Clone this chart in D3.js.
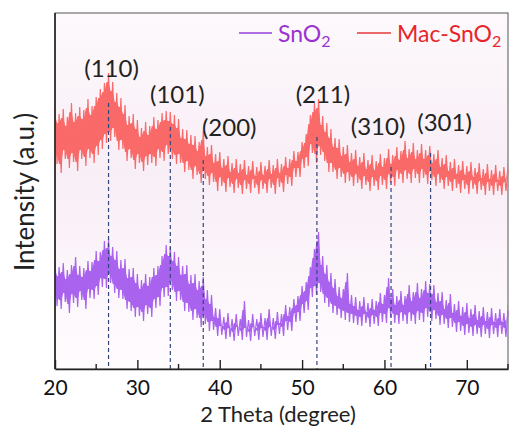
<!DOCTYPE html>
<html>
<head>
<meta charset="utf-8">
<script src="https://cdn.jsdelivr.net/npm/d3@7"></script>
<style>
body { margin: 0; background: #fff; }
text { font-family: Lato, "Open Sans", sans-serif; }
</style>
</head>
<body>
<svg id="chart" width="510" height="430"></svg>
<script>
//data//
var thetaStart = 20;   // first 2theta of the scan
var thetaStep = 0.25;  // scan step

// Mac-SnO2 intensities (a.u.)
var macSnO2 = [
262,205,255,196,260,210,252,201,266,207,256,198,262,210,259,203,
270,211,263,206,272,214,280,220,286,226,296,228,287,232,276,219,
271,220,264,208,253,211,255,200,249,206,241,198,247,204,243,206,
252,203,249,211,256,208,258,215,257,210,254,205,250,206,240,197,
239,199,234,190,233,194,227,186,238,190,222,184,224,187,215,178,
217,183,210,177,213,182,206,176,210,181,205,175,209,180,203,176,
208,181,202,175,207,180,203,176,209,181,204,175,210,182,205,177,
212,185,210,183,218,192,217,192,227,201,235,203,254,216,266,206,
270,214,253,208,246,197,240,197,231,190,230,192,222,186,224,188,
216,183,219,186,212,180,216,184,209,178,214,183,208,179,215,184,
211,180,220,186,214,183,222,190,218,186,228,190,220,186,226,191,
219,186,225,191,219,185,223,189,215,183,219,186,211,180,214,183,
207,178,210,181,204,176,208,180,203,175,207,180,201,175,206,179,
200,174,205,178,199,174,204,178,198,174,202,178,199
];

// SnO2 intensities (a.u.)
var snO2 = [
108,63,102,60,106,67,99,56,104,66,112,62,103,69,101,60,
108,71,107,70,118,74,117,82,128,81,130,86,122,76,118,71,
109,70,110,60,100,58,101,52,95,53,89,48,95,55,92,52,
101,61,103,63,113,72,124,73,122,79,117,68,112,69,103,58,
104,57,94,49,95,51,88,42,92,45,79,38,74,39,61,33,
60,34,52,30,56,32,50,28,55,33,50,29,68,32,49,28,
55,33,50,29,56,32,51,29,60,33,51,30,57,35,55,33,
64,39,62,38,70,47,73,48,83,56,87,59,102,72,120,74,
137,77,113,66,104,62,96,56,90,54,82,51,80,49,96,47,
74,46,72,44,68,43,72,46,66,42,70,45,68,43,76,47,
74,46,91,52,80,46,73,45,78,48,73,45,84,48,77,45,
86,49,80,47,88,52,85,48,84,50,76,44,77,45,69,41,
75,42,65,37,68,38,62,34,66,36,60,33,64,35,58,32,
62,35,57,31,61,35,56,32,60,35,56,32,58
];

// reflections of tetragonal SnO2
var peakLabels = ["(110)", "(101)", "(200)", "(211)", "(310)", "(301)"];
var peakTheta = [26.5, 34.0, 38.0, 51.8, 60.8, 65.6];
var peakTop = [266, 242, 209, 232, 202, 216];   // where each dashed marker starts

var xTicks = [20, 30, 40, 50, 60, 70];
var xMinor = [25, 35, 45, 55, 65, 75];

var seriesNames = ["SnO", "Mac-SnO"];

//layout//
var margins = {top: 13, right: 2, bottom: 61, left: 55};
var screen = {width: 510, height: 430};
var width = screen.width - margins.left - margins.right;
var height = screen.height - margins.top - margins.bottom;

// label nudges (px) so the Miller indices sit where the original put them
var labelDx = [3, 7, 26, 6, -13, 14];
var labelY = [77, 103, 136, 103, 135, 131];

var xScale = d3.scaleLinear()
               .domain([20, 75])
               .range([margins.left, margins.left + width]);

var yScale = d3.scaleLinear()
               .domain([0, 356])
               .range([margins.top + height, margins.top]);

var svg = d3.select("#chart");

//background//
var grad = svg.append("defs")
              .append("linearGradient")
              .attr("id", "bg")
              .attr("x1", 0).attr("y1", 0)
              .attr("x2", 0).attr("y2", 1);
grad.append("stop").attr("offset", "0%").attr("stop-color", "#fdf9fc");
grad.append("stop").attr("offset", "45%").attr("stop-color", "#f8eef6");
grad.append("stop").attr("offset", "100%").attr("stop-color", "#fffcfe");

svg.append("rect")
   .attr("x", margins.left)
   .attr("y", margins.top)
   .attr("width", width)
   .attr("height", height)
   .style("fill", "url(#bg)")
   .style("stroke", "#555")
   .style("stroke-width", 1);

//series//
var thetaAt = function(i) { return thetaStart + i * thetaStep; };
var inset = 9;   // how far the solid core sits inside the noise extremes

var drawSeries = function(values, colour)
{
    var pair = function(i)
    {
        var n = i < values.length - 1 ? values[i + 1] : values[i];
        return [Math.min(values[i], n), Math.max(values[i], n)];
    };

    // solid body of the noisy trace
    var core = d3.area()
                 .x(function(d, i) { return xScale(thetaAt(i)); })
                 .y0(function(d, i) { return yScale(pair(i)[0] + inset); })
                 .y1(function(d, i) { return yScale(pair(i)[1] - inset); });

    // the raw trace supplies the thin spikes
    var line = d3.line()
                 .x(function(d, i) { return xScale(thetaAt(i)); })
                 .y(function(d) { return yScale(d); });

    svg.append("path")
       .datum(values)
       .attr("d", core)
       .style("fill", colour)
       .style("stroke", "none");

    svg.append("path")
       .datum(values)
       .attr("d", line)
       .style("fill", "none")
       .style("stroke", colour)
       .style("stroke-width", 1.2);
};

drawSeries(snO2, "#a963ee");
drawSeries(macSnO2, "#f96a69");

//reference markers//
svg.append("g")
   .selectAll("line")
   .data(peakTheta)
   .enter()
   .append("line")
   .attr("x1", function(d) { return xScale(d); })
   .attr("x2", function(d) { return xScale(d); })
   .attr("y1", function(d, i) { return yScale(peakTop[i]); })
   .attr("y2", margins.top + height)
   .style("stroke", "#33477e")
   .style("stroke-width", 1.2)
   .style("stroke-dasharray", "4,3");

svg.append("g")
   .selectAll("text")
   .data(peakLabels)
   .enter()
   .append("text")
   .attr("x", function(d, i) { return xScale(peakTheta[i]) + labelDx[i]; })
   .attr("y", function(d, i) { return labelY[i]; })
   .attr("text-anchor", "middle")
   .style("font-size", "24px")
   .style("fill", "#222")
   .text(function(d) { return d; });

//axes//
var xAxis = svg.append("g")
               .attr("transform", "translate(0," + (margins.top + height) + ")")
               .call(d3.axisBottom(xScale)
                       .tickValues(xTicks)
                       .tickSizeInner(-9)
                       .tickSizeOuter(0)
                       .tickPadding(11));
xAxis.select(".domain").style("stroke", "#222").style("stroke-width", 1.6);
xAxis.selectAll(".tick line").style("stroke", "#222").style("stroke-width", 1.4);
xAxis.selectAll(".tick text")
     .style("font-family", "Lato, sans-serif")
     .style("font-size", "21px")
     .style("fill", "#111");

svg.append("g")
   .selectAll("line")
   .data(xMinor)
   .enter()
   .append("line")
   .attr("x1", function(d) { return xScale(d); })
   .attr("x2", function(d) { return xScale(d); })
   .attr("y1", margins.top + height)
   .attr("y2", margins.top + height - 5)
   .style("stroke", "#222")
   .style("stroke-width", 1.4);

svg.append("line")
   .attr("x1", margins.left).attr("x2", margins.left)
   .attr("y1", margins.top).attr("y2", margins.top + height)
   .style("stroke", "#222")
   .style("stroke-width", 1.6);

svg.append("text")
   .attr("x", 278)
   .attr("y", 422)
   .attr("text-anchor", "middle")
   .style("font-size", "22px")
   .style("fill", "#222")
   .text("2 Theta (degree)");

svg.append("text")
   .attr("transform", "translate(34,192) rotate(-90)")
   .attr("text-anchor", "middle")
   .style("font-size", "26px")
   .style("fill", "#222")
   .text("Intensity (a.u.)");

//legend//
var legend = [
    {name: seriesNames[0], line: "#9640d8", text: "#9a33d0", x0: 239, x1: 272, tx: 278},
    {name: seriesNames[1], line: "#e53a3a", text: "#e6262c", x0: 357, x1: 391, tx: 397}
];

legend.forEach(function(l)
{
    svg.append("line")
       .attr("x1", l.x0).attr("x2", l.x1)
       .attr("y1", 33).attr("y2", 33)
       .style("stroke", l.line)
       .style("stroke-width", 1.5);
    var t = svg.append("text")
               .attr("x", l.tx)
               .attr("y", 42)
               .style("font-size", "23px")
               .style("fill", l.text)
               .text(l.name);
    t.append("tspan")
     .attr("dy", 5)
     .style("font-size", "16px")
     .text("2");
});

console.log("done");
</script>
</body>
</html>
